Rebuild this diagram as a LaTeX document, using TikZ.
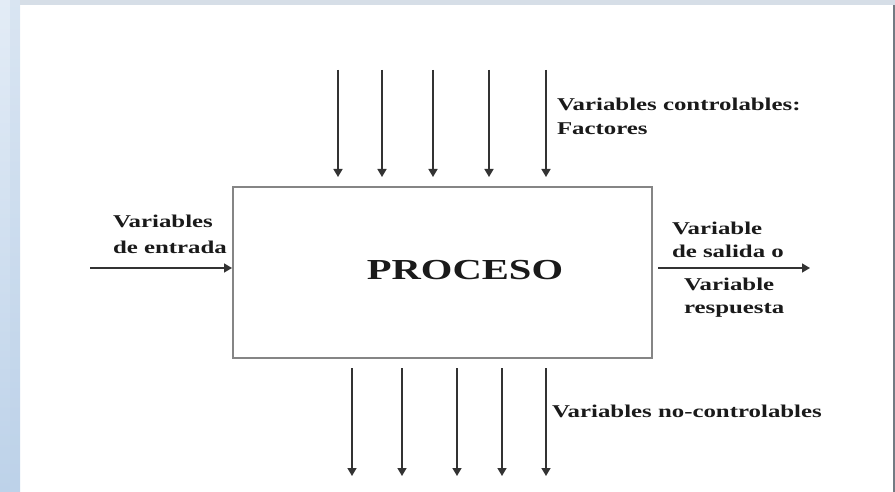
\documentclass[tikz,border=0pt]{standalone}
\usepackage{graphicx}
\usepackage{fontspec}
\setmainfont{Liberation Serif}
\usetikzlibrary{arrows.meta}
\definecolor{inkc}{HTML}{1A1A1A}
\definecolor{arrc}{HTML}{333333}
\definecolor{boxc}{HTML}{858585}
\definecolor{sidetop}{HTML}{E3ECF6}
\definecolor{sidebot}{HTML}{BDD2E9}
\definecolor{topstrip}{HTML}{D6DEE7}
\definecolor{edgec}{HTML}{737B83}
\newcommand{\hwide}[1]{\scalebox{1.38}[1]{#1}}
\newcommand{\lbl}[2]{\hwide{\fontsize{18}{#1}\selectfont\bfseries\begin{tabular}[t]{@{}l@{}}#2\end{tabular}}}
\tikzset{
  flow/.style={draw=arrc, line width=1.5pt, -{Triangle[length=8pt,width=9pt]}},
  txt/.style={inner sep=0pt, outer sep=0pt, anchor=base west, text=inkc},
}
\begin{document}
\begin{tikzpicture}[x=1pt,y=-1pt]
\useasboundingbox (0,0) rectangle (895,492);
% background frame
\fill[white] (0,0) rectangle (895,492);
\shade[top color=sidetop, bottom color=sidebot] (0,0) rectangle (20,492);
\fill[sidebot, opacity=0.25] (10,0) rectangle (20,492);
\fill[topstrip] (20,0) rectangle (895,5);
\fill[edgec] (893,5) rectangle (895,492);
% process box
\node[draw=boxc, line width=2.4pt, minimum width=419pt, minimum height=171pt, inner sep=0pt, outer sep=0pt, anchor=north west] (box) at (233,187) {};
\node[inner sep=0pt, anchor=base, text=inkc] (proc) at (465,279) {\scalebox{1.4}[1]{\fontsize{29}{32}\selectfont\bfseries PROCESO}};
% top arrows
\foreach \i/\x in {1/338,2/382,3/433,4/489,5/546}{
  \coordinate (ts\i) at (\x,70);
  \coordinate (te\i) at (\x,177);
  \draw[flow] (ts\i) -- (te\i);
}
% bottom arrows
\foreach \i/\x in {1/352,2/402,3/457,4/502,5/546}{
  \coordinate (bs\i) at (\x,368);
  \coordinate (be\i) at (\x,476);
  \draw[flow] (bs\i) -- (be\i);
}
% input / output arrows
\coordinate (inS) at (90,268);
\coordinate (inE) at (232,268);
\draw[flow] (inS) -- (inE);
\coordinate (outS) at (658,268);
\coordinate (outE) at (810,268);
\draw[flow] (outS) -- (outE);
% labels
\node[txt] (lctrl) at (557,111) {\lbl{24}{Variables controlables:\\Factores}};
\node[txt] (lin) at (113,228) {\lbl{25}{Variables\\de entrada}};
\node[txt] (lout1) at (672,235) {\lbl{23}{Variable\\de salida o}};
\node[txt] (lout2) at (684,290) {\lbl{23}{Variable\\respuesta}};
\node[txt] (lnc) at (552,417) {\lbl{23}{Variables no-controlables}};
\end{tikzpicture}
\end{document}
